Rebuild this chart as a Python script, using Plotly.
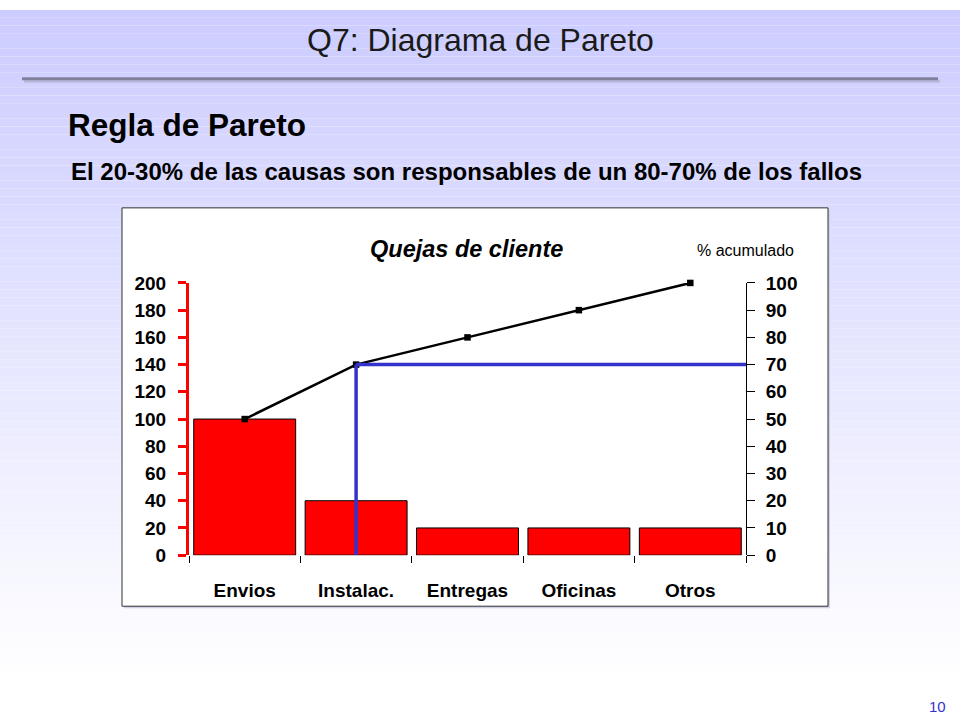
import plotly.graph_objects as go

# data
categorias = ["Envios", "Instalac.", "Entregas", "Oficinas", "Otros"]
quejas = [100, 40, 20, 20, 20]
pct_acumulado = [50, 70, 80, 90, 100]
umbral = 70
idx_umbral = pct_acumulado.index(umbral)

W, H = 960, 720
FONT = "Liberation Sans"

# the photographed page comes out slightly squashed vertically,
# so slide positions are mapped back before use
SY, OY = 0.97, 10.3


def px_x(v):
    return v / W


def px_y(v):
    return 1 - ((v - OY) / SY) / H


fig = go.Figure()

fig.add_trace(go.Bar(
    x=categorias, y=quejas, width=0.915,
    marker=dict(color="#FF0000", line=dict(color="#000000", width=1)),
    yaxis="y", showlegend=False,
))
fig.add_trace(go.Scatter(
    x=categorias, y=pct_acumulado, mode="lines+markers", cliponaxis=False,
    line=dict(color="#000000", width=2.5),
    marker=dict(symbol="square", size=6.5, color="#000000"),
    yaxis="y2", showlegend=False,
))

shapes = []
# slide background: lavender fading to white
n = 90
for i in range(n):
    t = min(1.0, (i + 0.5) / n * 720 / 690)
    r = int(round(204 + (255 - 204) * t))
    shapes.append(dict(type="rect", xref="paper", yref="paper",
                       x0=0, x1=1, y0=1 - (i + 1) / n, y1=1 - i / n,
                       fillcolor=f"rgb({r},{r},255)", line=dict(width=0), layer="below"))
# header rule with soft shadow
shapes.append(dict(type="line", xref="paper", yref="paper", x0=px_x(24), x1=px_x(940),
                   y0=px_y(81.5), y1=px_y(81.5), line=dict(color="#b8b8dc", width=3), layer="below"))
shapes.append(dict(type="line", xref="paper", yref="paper", x0=px_x(22), x1=px_x(938),
                   y0=px_y(79), y1=px_y(79), line=dict(color="#80809c", width=3), layer="below"))
# chart box
shapes.append(dict(type="rect", xref="paper", yref="paper", x0=px_x(124), x1=px_x(830),
                   y0=px_y(608), y1=px_y(210), fillcolor="#d0d0e6", line=dict(width=0), layer="below"))
shapes.append(dict(type="rect", xref="paper", yref="paper", x0=px_x(122), x1=px_x(828),
                   y0=px_y(606), y1=px_y(208), fillcolor="#FFFFFF",
                   line=dict(color="#303030", width=1), layer="below"))
# 70% guide lines
shapes.append(dict(type="line", xref="x", yref="y2", x0=idx_umbral, x1=idx_umbral,
                   y0=0, y1=umbral, line=dict(color="#3333CC", width=3.5)))
shapes.append(dict(type="line", xref="x", yref="y2", x0=idx_umbral, x1=len(categorias) - 0.5,
                   y0=umbral, y1=umbral, line=dict(color="#3333CC", width=3.5)))

dom_x = [px_x(189), px_x(746)]
dom_y = [px_y(555), px_y(283)]
tickfont = dict(family=FONT, size=19, color="#000000")
noaxis = dict(showgrid=False, zeroline=False, showline=False)

fig.update_layout(
    width=W, height=H, margin=dict(l=0, r=0, t=0, b=0),
    paper_bgcolor="#FFFFFF", plot_bgcolor="rgba(0,0,0,0)",
    shapes=shapes,
    xaxis=dict(domain=dom_x, range=[-0.5, 4.5], tickson="boundaries", ticks="outside",
               ticklen=7, tickcolor="#000000", tickfont=tickfont, ticklabelstandoff=22,
               tickprefix="<b>", ticksuffix="</b>", anchor="y", **noaxis),
    xaxis2=dict(domain=dom_x, range=[-0.5, 4.5], overlaying="x", anchor="y",
                tickmode="array", tickvals=[-0.5, 0.5, 1.5, 2.5, 3.5, 4.5], ticks="inside",
                ticklen=7, tickcolor="#000000", showticklabels=False, **noaxis),
    yaxis=dict(domain=dom_y, range=[0, 200], dtick=20, ticks="outside", ticklen=8,
               tickwidth=3, tickcolor="#FF0000", showline=True, linecolor="#FF0000",
               linewidth=3, showgrid=False, zeroline=False, tickfont=tickfont,
               tickprefix="<b>", ticksuffix="</b>", ticklabelstandoff=8),
    yaxis2=dict(domain=dom_y, range=[0, 100], dtick=10, overlaying="y", side="right",
                ticks="outside", ticklen=8, tickcolor="#000000", showline=True,
                linecolor="#000000", linewidth=1, showgrid=False, zeroline=False,
                tickfont=tickfont, tickprefix="<b>", ticksuffix="</b>", anchor="x",
                ticklabelstandoff=7),
    yaxis3=dict(domain=dom_y, range=[0, 200], dtick=20, overlaying="y", ticks="inside",
                ticklen=8, tickwidth=3, tickcolor="#FF0000", showticklabels=False,
                anchor="x", **noaxis),
    yaxis4=dict(domain=dom_y, range=[0, 100], dtick=10, overlaying="y", side="right",
                ticks="inside", ticklen=8, tickcolor="#000000", showticklabels=False,
                anchor="x", **noaxis),
)

annotations = [
    dict(text="Q7: Diagrama de Pareto", x=0.5, y=px_y(40), xanchor="center",
         font=dict(family=FONT, size=32, color="#1a1a1a")),
    dict(text="<b>Regla de Pareto</b>", x=px_x(66), y=px_y(125), xanchor="left",
         font=dict(family=FONT, size=31.5, color="#000000")),
    dict(text="<b>El 20-30% de las causas son responsables de un 80-70% de los fallos</b>",
         x=px_x(69), y=px_y(172), xanchor="left",
         font=dict(family=FONT, size=24, color="#000000")),
    dict(text="<b><i>Quejas de cliente</i></b>", x=px_x(466), y=px_y(249), xanchor="center",
         font=dict(family=FONT, size=23.5, color="#000000")),
    dict(text="% acumulado", x=px_x(745), y=px_y(251), xanchor="center",
         font=dict(family=FONT, size=16, color="#000000")),
    dict(text="10", x=px_x(937), y=px_y(706), xanchor="center",
         font=dict(family=FONT, size=15, color="#3333CC")),
]
for a in annotations:
    a.update(xref="paper", yref="paper", yanchor="middle", showarrow=False)
fig.update_layout(annotations=annotations)

# pin the chart to the top-left corner of the page, no scrolling;
# page background carries the same lavender-to-white fade
pin = (
    "var h=document.documentElement.style;h.margin='0';h.padding='0';h.overflow='hidden';"
    "h.background='linear-gradient(to bottom,#ccccff 0%,#ffffff 96%)';"
    "var b=document.body.style;b.margin='0';b.padding='0';b.overflow='hidden';"
    "b.fontSize='0';b.lineHeight='0';b.background='transparent';"
    "var g=document.querySelector('.plotly-graph-div');"
    "g.style.position='fixed';g.style.top='0px';g.style.left='0px';"
)
fig.write_html("out.html", config={"displayModeBar": False}, post_script=pin)
